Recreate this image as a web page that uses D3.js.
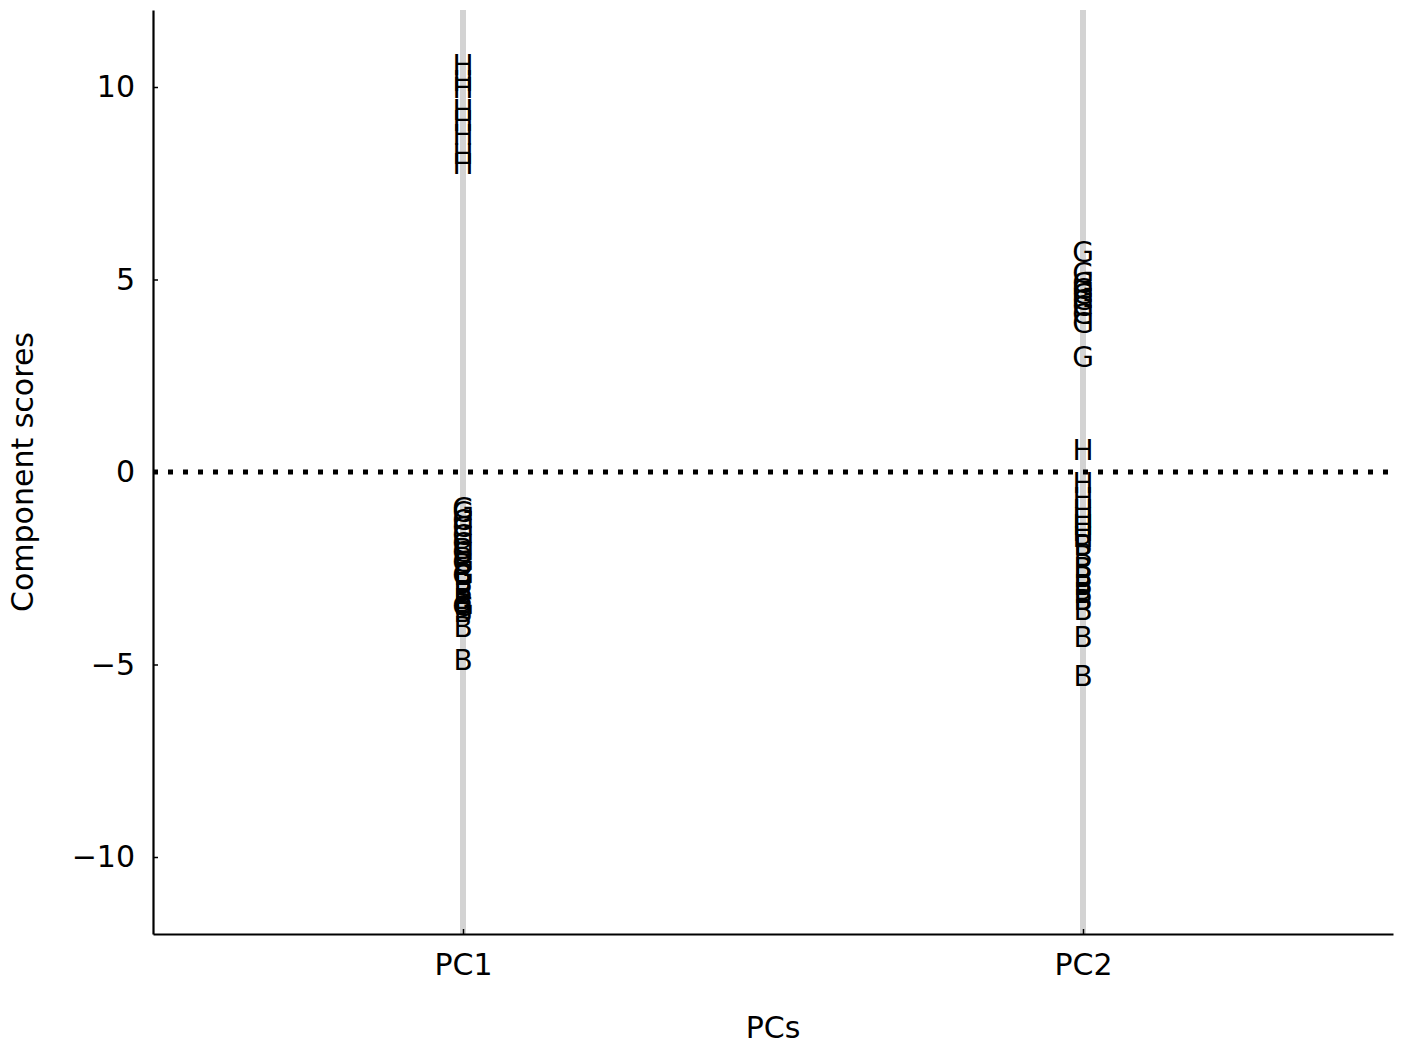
<!DOCTYPE html>
<html>
<head>
<meta charset="utf-8">
<script src="https://cdn.jsdelivr.net/npm/d3@7"></script>
<style>
  body { margin: 0; background: #fff; }
  text { font-family: "DejaVu Sans", sans-serif; }
</style>
</head>
<body>
<svg id="chart" width="1403" height="1052"></svg>
<script>
const pcs = ["PC1", "PC2"];
const yTicks = [-10, -5, 0, 5, 10];
// sample labels and their scores on each PC
const groupH_PC1 = [10.55, 10.15, 9.95, 9.4, 9.1, 8.75, 8.25, 8.0];
const groupG_PC1 = [-0.95, -1.05, -1.25, -1.45, -1.65, -1.85, -2.1, -2.35, -2.7, -3.5];
const groupB_PC1 = [-2.0, -2.4, -2.7, -2.9, -3.1, -3.3, -3.45, -3.65, -4.05, -4.9];
const groupH_PC2 = [0.57, -0.3, -0.7, -1.0, -1.2, -1.4, -1.55, -1.7];
const groupG_PC2 = [5.7, 5.15, 4.9, 4.75, 4.6, 4.45, 4.3, 4.1, 3.85, 2.97];
const groupB_PC2 = [-1.9, -2.2, -2.5, -2.75, -2.95, -3.15, -3.35, -3.6, -4.3, -5.3];

const points = [];
[["H", groupH_PC1, 0], ["G", groupG_PC1, 0], ["B", groupB_PC1, 0],
 ["H", groupH_PC2, 1], ["G", groupG_PC2, 1], ["B", groupB_PC2, 1]].forEach(([lab, vals, pc]) => {
  vals.forEach(v => points.push({label: lab, pc: pc, value: v}));
});

const svg = d3.select("#chart");
const mLeft = 153, mRight = 1393, mTop = 10, mBottom = 934;

const x = d3.scaleLinear().domain([-0.5, 1.5]).range([mLeft, mRight]);
const y = d3.scaleLinear().domain([-12, 12]).range([mBottom, mTop]);

// vertical grey lines at each PC
svg.append("g").selectAll("line").data(pcs).join("line")
  .attr("x1", (d, i) => x(i)).attr("x2", (d, i) => x(i))
  .attr("y1", mTop).attr("y2", mBottom)
  .attr("stroke", "#d3d3d3").attr("stroke-width", 6);

// dotted zero line
svg.append("line")
  .attr("x1", mLeft).attr("x2", mRight)
  .attr("y1", y(0)).attr("y2", y(0))
  .attr("stroke", "#000").attr("stroke-width", 5)
  .attr("stroke-dasharray", "5,10");

// labels
svg.append("g").selectAll("text").data(points).join("text")
  .attr("x", d => x(d.pc))
  .attr("y", d => y(d.value))
  .attr("text-anchor", "middle")
  .attr("dominant-baseline", "central")
  .attr("font-size", 28)
  .attr("fill", "#000")
  .text(d => d.label);

// y axis
const yAxis = d3.axisLeft(y).tickValues(yTicks).tickSizeInner(-5).tickSizeOuter(0).tickPadding(18)
  .tickFormat(d => d < 0 ? "\u2212" + Math.abs(d) : String(d));
const gy = svg.append("g").attr("transform", `translate(${mLeft},0)`).call(yAxis);
gy.select(".domain").attr("stroke-width", 2.2);
gy.selectAll(".tick line").attr("stroke-width", 1.5);
gy.selectAll(".tick text").attr("font-size", 30).attr("font-family", "DejaVu Sans").attr("fill", "#000");

// x axis
const xAxis = d3.axisBottom(x).tickValues([0, 1]).tickSizeInner(-5).tickSizeOuter(0).tickPadding(20)
  .tickFormat(d => pcs[d]);
const gx = svg.append("g").attr("transform", `translate(0,${mBottom})`).call(xAxis);
gx.select(".domain").attr("stroke-width", 2.2);
gx.selectAll(".tick line").attr("stroke-width", 1.5);
gx.selectAll(".tick text").attr("font-size", 30).attr("font-family", "DejaVu Sans").attr("fill", "#000");

// axis titles
svg.append("text")
  .attr("x", (mLeft + mRight) / 2).attr("y", 1027)
  .attr("text-anchor", "middle").attr("dominant-baseline", "central")
  .attr("font-size", 30).text("PCs");
svg.append("text")
  .attr("transform", `translate(22,${(mTop + mBottom) / 2}) rotate(-90)`)
  .attr("text-anchor", "middle").attr("dominant-baseline", "central")
  .attr("font-size", 30).text("Component scores");
</script>
</body>
</html>
